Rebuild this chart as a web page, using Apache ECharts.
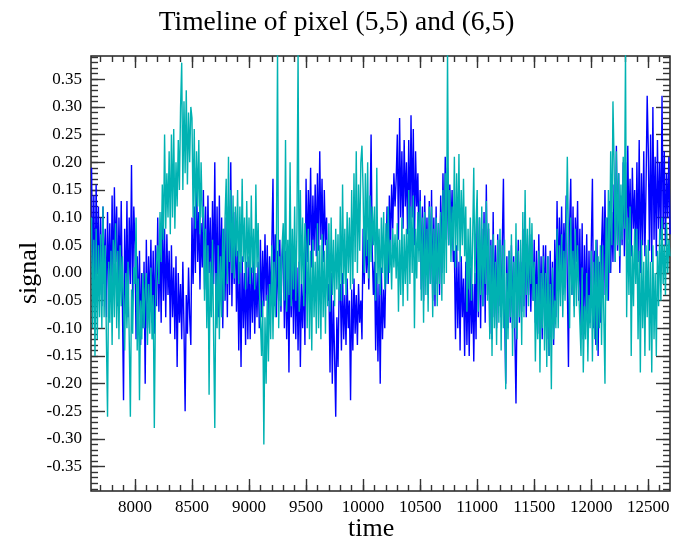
<!DOCTYPE html>
<html>
<head>
<meta charset="utf-8">
<script src="https://cdn.jsdelivr.net/npm/echarts@6/dist/echarts.min.js"></script>
<style>html,body{margin:0;padding:0;background:#fff}#c{width:673px;height:547px}</style>
</head>
<body>
<div id="c"></div>
<script>
const TITLE = 'Timeline of pixel (5,5) and (6,5)';
const X_NAME = 'time';
const Y_NAME = 'signal';
const T0 = 7620;
const DT = 10;
const X_MIN = 7615, X_MAX = 12690;
const Y_MIN = -0.394, Y_MAX = 0.392;
const X_MAJOR = [8000, 8500, 9000, 9500, 10000, 10500, 11000, 11500, 12000, 12500];
const Y_MAJOR = [-0.35, -0.30, -0.25, -0.20, -0.15, -0.10, -0.05, 0.00, 0.05, 0.10, 0.15, 0.20, 0.25, 0.30, 0.35];

// pixel (5,5) - blue, one row per 100 time units
const blue = [
  0.19, -0.03, 0.14, -0.05, 0.16, 0.00, 0.12, -0.04,
  0.10, -0.06, 0.12, -0.02, 0.08, -0.08, 0.11, -0.03, 0.09, -0.05,
  0.14, -0.04, 0.155, 0.02, 0.12, -0.06, 0.10, -0.02, 0.13, -0.05,
  -0.23, 0.08, -0.06, 0.13, -0.08, 0.10, -0.02, 0.195, -0.05, 0.12,
  0.05, -0.12, 0.03, -0.08, 0.04, -0.13, 0.00, -0.10, 0.02, -0.20,
  0.06, -0.10, 0.03, -0.07, 0.06, -0.09, 0.04, -0.11, 0.05, -0.06,
  0.10, -0.07, 0.06, -0.09, 0.11, -0.05, 0.08, -0.08, 0.07, -0.04,
  0.04, -0.11, 0.05, -0.08, 0.01, -0.12, 0.03, -0.17, 0.00, -0.09,
  -0.02, -0.12, 0.02, -0.10, -0.25, -0.04, -0.11, 0.01, -0.08, -0.13,
  0.10, -0.02, 0.12, 0.00, 0.19, 0.02, 0.11, -0.03, 0.09, 0.01,
  0.15, -0.03, 0.12, -0.05, 0.14, 0.00, 0.10, -0.04, 0.13, -0.02,
  0.20, -0.06, 0.12, -0.08, 0.14, -0.03, 0.10, -0.10, 0.08, -0.05,
  0.10, -0.08, 0.12, -0.04, 0.20, -0.06, 0.09, -0.02, 0.11, -0.07,
  0.04, -0.14, 0.02, -0.17, 0.03, -0.10, 0.00, -0.13, 0.02, -0.12,
  0.03, -0.12, 0.01, -0.09, 0.03, -0.11, 0.00, -0.08, 0.02, -0.10,
  0.06, -0.08, 0.04, -0.06, 0.07, -0.05, 0.05, -0.08, 0.03, -0.06,
  0.05, 0.17, -0.06, 0.07, -0.08, 0.04, -0.05, 0.06, -0.07, 0.03,
  0.06, -0.10, 0.04, -0.12, 0.02, -0.18, 0.05, -0.08, 0.03, -0.11,
  0.03, -0.12, 0.01, -0.14, 0.02, -0.17, -0.02, -0.10, 0.01, -0.13,
  0.17, 0.02, 0.15, 0.05, 0.19, 0.01, 0.14, 0.04, 0.16, 0.03,
  0.18, 0.04, 0.22, 0.06, 0.17, 0.02, 0.15, 0.05, 0.10, -0.05,
  -0.02, -0.18, 0.00, -0.20, -0.05, -0.15, -0.26, -0.08, -0.17, -0.03,
  -0.02, -0.14, 0.00, -0.12, -0.04, -0.13, -0.01, -0.10, -0.05, -0.23,
  -0.03, -0.14, -0.01, -0.11, -0.04, -0.13, -0.02, -0.09, -0.05, -0.12,
  0.08, -0.02, 0.10, 0.00, 0.06, -0.03, 0.09, 0.25, 0.04, -0.04,
  0.02, -0.14, 0.00, -0.16, -0.02, -0.20, 0.01, -0.12, -0.03, -0.10,
  0.02, 0.12, -0.02, 0.14, 0.04, 0.16, 0.08, 0.18, 0.12, 0.17,
  0.25, 0.06, 0.28, 0.10, 0.22, 0.08, 0.24, 0.12, 0.20, 0.07,
  0.24, 0.08, 0.285, 0.10, 0.26, 0.05, 0.22, 0.12, 0.18, 0.04,
  0.15, -0.03, 0.12, -0.05, 0.14, 0.00, 0.10, -0.04, 0.13, -0.02,
  0.15, -0.05, 0.10, -0.06, 0.12, -0.02, 0.09, -0.04, 0.14, 0.00,
  0.18, 0.04, 0.21, 0.06, 0.19, 0.05, 0.16, 0.08, 0.15, 0.02,
  0.04, -0.12, 0.05, -0.10, 0.02, -0.14, 0.03, -0.08, -0.01, -0.15,
  0.02, -0.13, 0.00, -0.15, 0.01, -0.11, -0.02, -0.16, 0.00, -0.12,
  0.12, -0.08, 0.10, -0.10, 0.08, -0.06, 0.11, -0.09, 0.16, -0.04,
  0.08, -0.11, 0.06, -0.12, 0.11, -0.08, 0.05, -0.10, 0.07, -0.06,
  0.06, -0.08, 0.05, 0.17, -0.06, -0.20, 0.03, -0.10, 0.04, -0.09,
  0.05, -0.10, 0.03, -0.11, -0.236, -0.04, 0.06, -0.09, 0.02, -0.07,
  0.08, -0.06, 0.11, -0.08, 0.05, -0.04, 0.07, -0.07, 0.04, -0.05,
  0.06, -0.09, 0.04, -0.11, 0.07, -0.08, 0.03, -0.12, 0.05, -0.06,
  0.05, -0.12, 0.03, -0.15, 0.04, -0.10, 0.02, -0.13, 0.06, -0.08,
  0.13, -0.03, 0.10, 0.00, 0.12, -0.04, 0.09, 0.01, 0.14, -0.02,
  -0.17, 0.08, 0.17, -0.04, 0.12, -0.06, 0.10, 0.02, 0.13, -0.05,
  0.08, -0.10, 0.09, -0.12, 0.05, -0.08, 0.07, -0.11, 0.04, -0.09,
  0.05, 0.17, -0.10, 0.04, -0.13, 0.06, -0.15, 0.02, -0.09, 0.05,
  0.12, -0.04, 0.15, -0.02, 0.10, -0.05, 0.13, 0.00, 0.11, 0.02,
  0.16, 0.02, 0.23, 0.04, 0.18, 0.00, 0.14, 0.05, 0.20, 0.03,
  0.20, 0.04, 0.23, 0.06, 0.17, 0.03, 0.19, 0.08, 0.15, 0.02,
  0.20, 0.02, 0.24, 0.00, 0.18, 0.05, 0.22, 0.03, 0.16, 0.32,
  0.22, 0.04, 0.25, 0.02, 0.30, 0.06, 0.21, 0.03, 0.24, 0.08,
  0.20, 0.06, 0.32, 0.08, 0.22, 0.05, 0.18, 0.10, 0.21, 0.07
];

// pixel (6,5) - cyan, one row per 100 time units
const cyan = [
  0.10, -0.10, 0.06, -0.15, 0.08, -0.12, 0.05, -0.08,
  0.07, -0.10, 0.12, -0.08, 0.05, -0.12, -0.26, 0.02, -0.09, 0.04,
  -0.13, 0.06, -0.08, 0.09, -0.10, 0.04, -0.12, 0.05, -0.06, 0.03,
  0.03, -0.14, 0.00, -0.10, 0.02, -0.12, -0.26, -0.03, -0.11, 0.01,
  -0.02, 0.10, -0.14, -0.01, -0.23, -0.05, -0.12, 0.00, -0.10, -0.03,
  0.00, -0.13, -0.02, -0.11, 0.01, -0.12, -0.04, -0.28, -0.06, 0.02,
  0.05, -0.02, 0.11, 0.02, 0.16, 0.06, 0.25, 0.08, 0.18, 0.10,
  0.22, 0.07, 0.25, 0.10, 0.26, 0.08, 0.20, 0.12, 0.24, 0.15,
  0.30, 0.38, 0.15, 0.31, 0.18, 0.33, 0.16, 0.29, 0.20, 0.30,
  0.28, 0.10, 0.26, 0.08, 0.22, 0.12, 0.24, 0.07, 0.20, 0.10,
  0.12, -0.05, 0.08, -0.10, 0.05, -0.22, 0.02, -0.08, 0.06, -0.12,
  -0.28, 0.00, -0.10, 0.05, -0.12, 0.03, -0.08, 0.08, -0.05, 0.10,
  0.17, -0.02, 0.21, 0.02, 0.15, 0.00, 0.14, -0.01, 0.12, 0.03,
  0.15, -0.02, 0.12, 0.00, 0.17, 0.02, 0.10, -0.03, 0.13, 0.01,
  0.10, -0.02, 0.14, 0.00, 0.08, -0.03, 0.16, 0.01, 0.09, -0.02,
  -0.02, -0.15, -0.05, -0.31, -0.08, -0.20, -0.04, -0.16, -0.02, -0.12,
  0.05, -0.12, 0.02, -0.08, 0.04, 0.40, -0.10, 0.03, -0.06, 0.05,
  0.09, -0.05, 0.24, -0.07, 0.06, -0.04, 0.20, -0.06, 0.08, -0.03,
  0.12, -0.05, 0.08, 0.40, -0.07, 0.15, -0.02, 0.10, -0.06, 0.09,
  0.05, -0.10, 0.08, -0.12, 0.04, -0.14, 0.06, -0.08, 0.02, -0.11,
  0.09, -0.10, 0.05, -0.12, 0.07, -0.08, 0.04, -0.11, 0.06, -0.06,
  0.09, -0.07, 0.10, -0.04, 0.06, -0.06, 0.08, -0.03, 0.07, -0.05,
  0.12, -0.05, 0.16, -0.02, 0.08, -0.04, 0.11, 0.00, 0.10, -0.03,
  0.15, -0.02, 0.18, 0.02, 0.22, 0.00, 0.16, 0.04, 0.20, 0.23,
  0.15, 0.00, 0.18, 0.03, 0.20, -0.01, 0.14, 0.02, 0.12, 0.05,
  0.12, -0.05, 0.19, -0.02, 0.08, -0.04, 0.10, 0.00, 0.11, -0.03,
  0.09, -0.02, 0.12, 0.00, 0.06, -0.03, 0.08, 0.01, 0.07, -0.01,
  0.09, -0.07, 0.06, -0.04, 0.10, -0.06, 0.07, -0.02, 0.08, -0.05,
  0.15, -0.02, 0.12, 0.00, 0.14, -0.10, 0.08, -0.01, 0.11, 0.02,
  0.13, -0.05, 0.10, -0.09, 0.11, -0.04, 0.08, -0.07, 0.12, -0.02,
  0.12, -0.08, 0.08, -0.04, 0.10, -0.06, 0.09, -0.02, 0.11, -0.05,
  0.15, -0.02, 0.18, 0.00, 0.40, 0.05, 0.15, 0.02, 0.12, 0.04,
  0.21, 0.01, 0.18, 0.04, 0.215, 0.02, 0.15, 0.05, 0.17, 0.03,
  0.12, -0.07, 0.08, -0.03, 0.10, -0.05, 0.06, 0.19, -0.02, 0.09,
  0.15, -0.07, 0.10, -0.04, 0.12, -0.06, 0.09, -0.02, 0.13, -0.05,
  0.09, -0.12, 0.05, -0.15, 0.07, -0.10, 0.02, -0.13, 0.06, -0.09,
  0.08, -0.14, 0.05, -0.10, 0.06, -0.21, 0.00, -0.12, 0.04, -0.08,
  0.07, -0.15, 0.02, -0.10, 0.09, -0.12, 0.04, -0.08, 0.06, -0.13,
  0.11, -0.08, 0.15, -0.04, 0.08, -0.06, 0.10, -0.02, 0.09, -0.05,
  0.02, -0.16, -0.02, -0.12, 0.04, -0.18, 0.00, -0.10, 0.03, -0.14,
  0.00, -0.17, 0.03, -0.15, -0.02, -0.21, 0.01, -0.12, -0.05, -0.10,
  0.08, -0.10, 0.05, -0.06, 0.07, -0.08, 0.04, -0.05, 0.06, 0.21,
  0.06, -0.10, 0.10, -0.04, 0.04, -0.08, 0.08, -0.06, 0.05, -0.03,
  -0.03, -0.15, 0.01, -0.18, -0.06, -0.12, 0.00, -0.16, -0.04, -0.10,
  0.04, -0.16, 0.02, -0.12, 0.06, -0.14, 0.03, -0.10, 0.05, -0.13,
  0.05, -0.08, -0.20, 0.10, -0.05, 0.15, 0.00, 0.22, 0.05, 0.31,
  0.20, 0.02, 0.22, 0.05, 0.18, 0.03, 0.16, 0.06, 0.21, 0.08,
  0.40, -0.08, 0.10, -0.04, 0.12, -0.15, 0.05, -0.06, 0.08, -0.02,
  0.08, -0.12, 0.04, -0.18, 0.06, -0.10, 0.02, -0.15, 0.05, -0.08,
  0.06, -0.14, 0.02, -0.18, 0.05, -0.12, 0.00, -0.15, 0.04, -0.06,
  0.08, -0.05, 0.10, -0.02, 0.05, -0.04, 0.09, 0.00, 0.06, 0.03
];

const FONT = '"Liberation Serif", "Times New Roman", serif';
const toPairs = arr => arr.map((v, i) => [T0 + i * DT, v]);
const xMinor = [];
for (let t = 7700; t <= 12600; t += 100) xMinor.push(t);
const yMinor = [];
for (let k = -39; k <= 39; k++) yMinor.push(k / 100);

const chart = echarts.init(document.getElementById('c'), null, {renderer: 'canvas'});
const tickStyle = {color: '#333', width: 1.4};
function xAx(pos, vals, len, labels) {
  return {
    type: 'value', position: pos, min: X_MIN, max: X_MAX, gridIndex: 0,
    axisLine: {show: false, onZero: false}, splitLine: {show: false},
    axisTick: {show: true, inside: true, length: len, customValues: vals, lineStyle: tickStyle},
    axisLabel: labels ? {show: true, customValues: X_MAJOR, fontFamily: FONT, fontSize: 17, color: '#000', margin: 8,
      formatter: v => String(Math.round(v))} : {show: false}
  };
}
function yAx(pos, vals, len, labels) {
  return {
    type: 'value', position: pos, min: Y_MIN, max: Y_MAX, gridIndex: 0,
    axisLine: {show: false, onZero: false}, splitLine: {show: false},
    axisTick: {show: true, inside: true, length: len, customValues: vals, lineStyle: tickStyle},
    axisLabel: labels ? {show: true, customValues: Y_MAJOR, fontFamily: FONT, fontSize: 17, color: '#000', margin: 9,
      formatter: v => v.toFixed(2)} : {show: false}
  };
}
chart.setOption({
  animation: false,
  backgroundColor: '#fff',
  title: {text: TITLE, left: 'center', top: 4,
    textStyle: {fontFamily: FONT, fontSize: 27.5, fontWeight: 'normal', color: '#000'}},
  grid: {left: 91, top: 56, width: 579, height: 435, show: true, borderColor: '#222', borderWidth: 1.5, backgroundColor: 'transparent'},
  xAxis: [
    xAx('bottom', X_MAJOR, 12, true),
    xAx('bottom', xMinor, 6, false),
    xAx('top', X_MAJOR, 12, false),
    xAx('top', xMinor, 6, false)
  ],
  yAxis: [
    yAx('left', Y_MAJOR, 14, true),
    yAx('left', yMinor, 7, false),
    yAx('right', Y_MAJOR, 14, false),
    yAx('right', yMinor, 7, false)
  ],
  graphic: [
    {type: 'text', left: 348, top: 516, style: {text: X_NAME, fontFamily: FONT, fontSize: 26, fill: '#000'}},
    {type: 'text', x: 16, y: 304, rotation: Math.PI / 2, style: {text: Y_NAME, fontFamily: FONT, fontSize: 26, fill: '#000'}}
  ],
  series: [
    {type: 'line', name: '(5,5)', data: toPairs(blue), showSymbol: false, symbol: 'none', z: 2,
      lineStyle: {color: '#0000ff', width: 1.4}, itemStyle: {color: '#0000ff'}},
    {type: 'line', name: '(6,5)', data: toPairs(cyan), showSymbol: false, symbol: 'none', z: 3,
      lineStyle: {color: '#00b2b2', width: 1.4}, itemStyle: {color: '#00b2b2'}}
  ]
});
</script>
</body>
</html>
